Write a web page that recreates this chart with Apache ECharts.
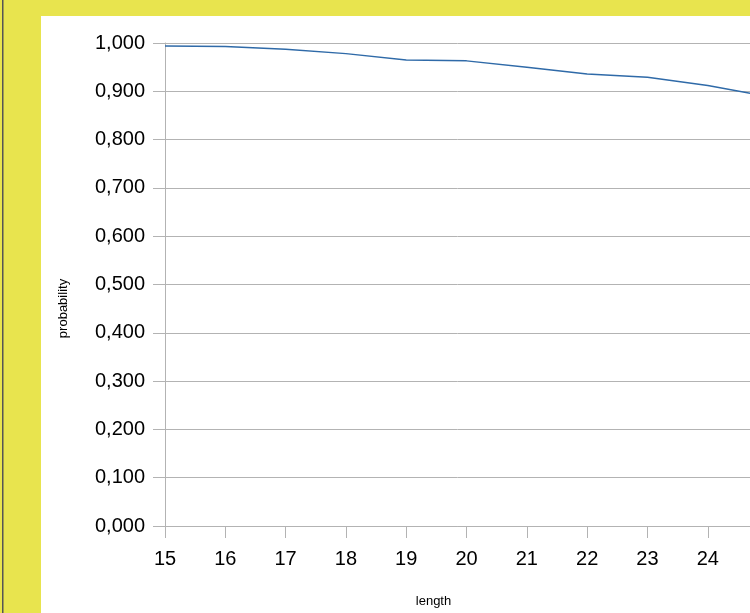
<!DOCTYPE html>
<html>
<head>
<meta charset="utf-8">
<script src="https://cdn.jsdelivr.net/npm/echarts@6/dist/echarts.min.js"></script>
<style>
  html, body { margin: 0; padding: 0; background: #fff; }
  #chart { width: 750px; height: 613px; }
</style>
</head>
<body>
<div id="chart"></div>
<script>
  // length vs probability
  var lengths = [15, 16, 17, 18, 19, 20, 21, 22, 23, 24, 25];
  var probability = [0.994, 0.993, 0.987, 0.978, 0.965, 0.963, 0.950, 0.936, 0.929, 0.912, 0.889];

  var chartDom = document.getElementById('chart');
  var myChart = echarts.init(chartDom);

  var points = [];
  for (var i = 0; i < lengths.length; i++) {
    points.push([lengths[i], probability[i]]);
  }

  var font = '"Liberation Sans", Arial, sans-serif';

  var option = {
    animation: false,
    backgroundColor: '#fff',
    graphic: [
      { type: 'rect', left: 0, top: 0, shape: { width: 41, height: 613 }, style: { fill: '#E8E44E' }, z: 100 },
      { type: 'rect', left: 0, top: 0, shape: { width: 750, height: 16 }, style: { fill: '#E8E44E' }, z: 100 },
      { type: 'rect', left: 2, top: 0, shape: { width: 1.5, height: 613 }, style: { fill: '#555' }, z: 101 }
    ],
    grid: {
      left: 165,
      top: 43,
      bottom: 87,
      right: 0,
      containLabel: false
    },
    xAxis: {
      type: 'value',
      min: 15,
      max: 24.7,   // the chart is cut off at the right edge
      interval: 1,
      name: 'length',
      nameLocation: 'middle',
      nameGap: 69,
      nameTextStyle: { fontFamily: font, fontSize: 13, color: '#000', padding: [0, 48, 0, 0] },
      axisLine: { show: true, onZero: false, lineStyle: { color: '#b3b3b3', width: 1 } },
      axisTick: { show: true, length: 12, lineStyle: { color: '#b3b3b3' } },
      axisLabel: {
        fontFamily: font, fontSize: 20, color: '#000', margin: 23, showMaxLabel: false,
        formatter: function (v) { return v % 1 === 0 ? String(v) : ''; }
      },
      splitLine: { show: false }
    },
    yAxis: {
      type: 'value',
      min: 0,
      max: 1,
      interval: 0.1,
      name: 'probability',
      nameLocation: 'middle',
      nameGap: 95,
      nameRotate: 90,
      nameTextStyle: { fontFamily: font, fontSize: 13, color: '#000', padding: [0, 48, 0, 0] },
      axisLine: { show: true, lineStyle: { color: '#b3b3b3', width: 1 } },
      axisTick: { show: true, length: 12, lineStyle: { color: '#b3b3b3' } },
      axisLabel: {
        fontFamily: font, fontSize: 20, color: '#000', margin: 20,
        formatter: function (v) { return v.toFixed(3).replace('.', ','); }
      },
      splitLine: { show: true, lineStyle: { color: '#b3b3b3', width: 1 } }
    },
    series: [
      {
        type: 'line',
        data: points,
        showSymbol: false,
        clip: true,
        lineStyle: { color: '#2f6aa8', width: 1.5 },
        itemStyle: { color: '#2f6aa8' }
      }
    ]
  };

  myChart.setOption(option);
</script>
</body>
</html>
